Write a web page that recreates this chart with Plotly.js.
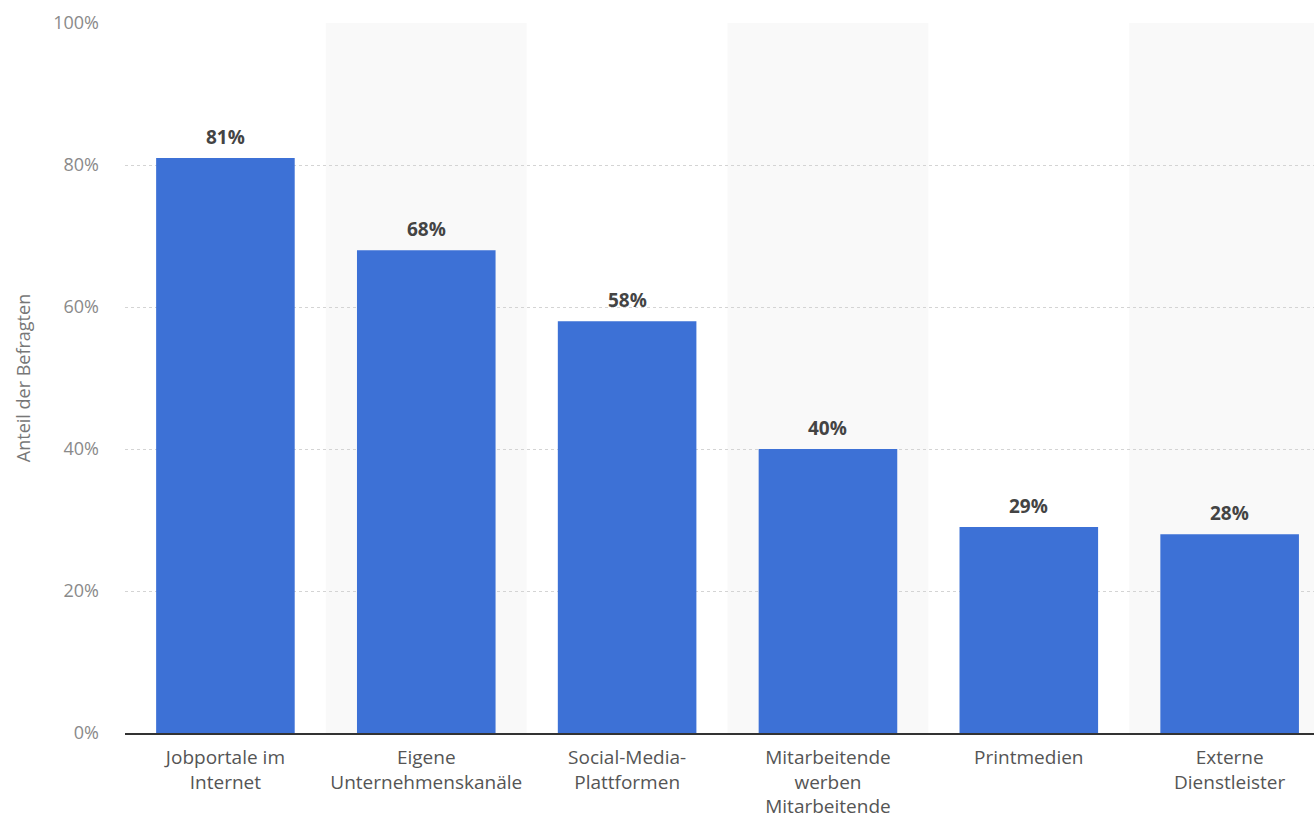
<!DOCTYPE html>
<html>
<head>
<meta charset="utf-8">
<script src="https://cdn.plot.ly/plotly-3.0.1.min.js"></script>
<style>html,body{margin:0;padding:0;background:#fff;}#chart{width:1314px;height:820px;}</style>
</head>
<body>
<div id="chart"></div>
<script>
const categories = ["Jobportale im<br>Internet", "Eigene<br>Unternehmenskanäle", "Social-Media-<br>Plattformen", "Mitarbeitende<br>werben<br>Mitarbeitende", "Printmedien", "Externe<br>Dienstleister"];
const values = [81, 68, 58, 40, 29, 28];
const yTickValues = [0, 20, 40, 60, 80, 100];
const yTickLabels = ["0%", "20%", "40%", "60%", "80%", "100%"];

const idx = categories.map((c, i) => i);

const shapes = idx.filter(i => i % 2 === 1).map(i => ({
  type: 'rect', xref: 'x', yref: 'paper', x0: i - 0.5, x1: i + 0.5, y0: 0, y1: 1,
  fillcolor: '#f9f9f9', line: {width: 0}, layer: 'below'
}));

const annotations = idx.map(i => ({
  x: i, y: values[i], xref: 'x', yref: 'y', text: '<b>' + values[i] + '%</b>',
  showarrow: false, yanchor: 'bottom', yshift: 6,
  font: {family: 'Open Sans', size: 19, color: '#444444'}
}));

const trace = {
  type: 'bar', x: idx, y: values,
  marker: {color: '#3d71d6'}, width: 0.69, hoverinfo: 'skip'
};

const layout = {
  width: 1314, height: 820,
  margin: {l: 125, r: 0, t: 23, b: 87},
  paper_bgcolor: '#ffffff', plot_bgcolor: 'rgba(0,0,0,0)',
  showlegend: false,
  shapes: shapes,
  annotations: annotations,
  xaxis: {
    range: [-0.5, 5.42], tickvals: idx, ticktext: categories,
    showgrid: false, zeroline: false, showline: true, linecolor: '#333333', linewidth: 2,
    ticks: '', ticklabelstandoff: 6,
    tickfont: {family: 'Open Sans', size: 19, color: '#555555'}, fixedrange: true
  },
  yaxis: {
    range: [0, 100], tickvals: yTickValues, ticktext: yTickLabels,
    showgrid: true, gridcolor: '#d4d4d4', griddash: 'dot', gridwidth: 1,
    zeroline: false, showline: false, ticks: '', ticklabelstandoff: 25,
    tickfont: {family: 'Open Sans', size: 18, color: '#8a8a8a'},
    title: {text: 'Anteil der Befragten', font: {family: 'Open Sans', size: 18, color: '#777777'}, standoff: 17},
    fixedrange: true
  }
};

Plotly.newPlot('chart', [trace], layout, {displayModeBar: false, staticPlot: true});
</script>
</body>
</html>
